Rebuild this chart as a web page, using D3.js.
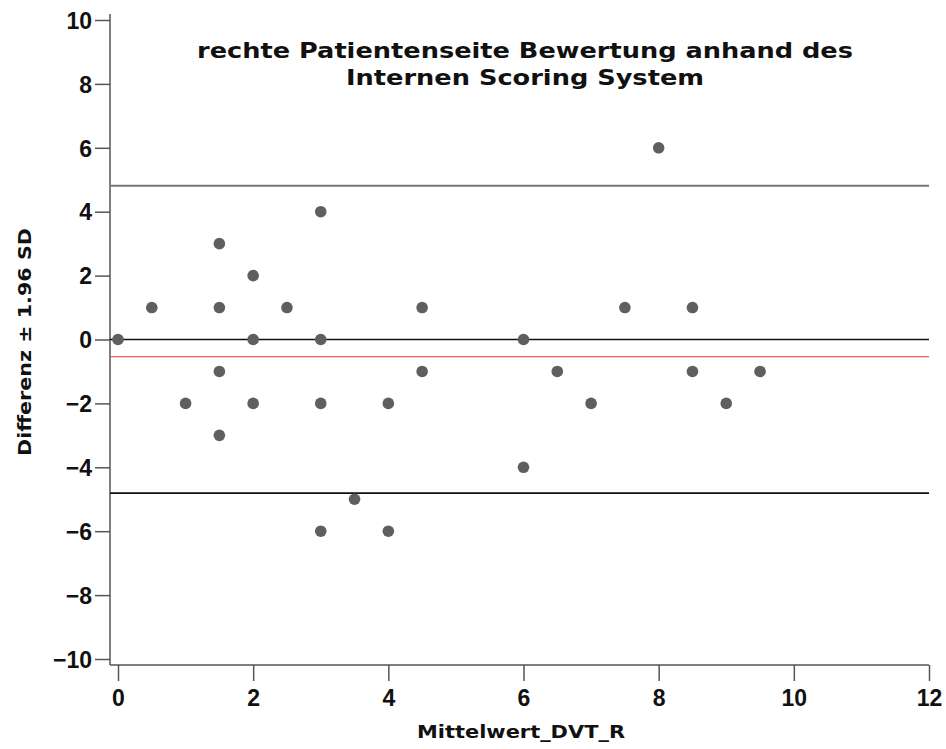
<!DOCTYPE html>
<html>
<head>
<meta charset="utf-8">
<script src="https://cdn.jsdelivr.net/npm/d3@7"></script>
<style>
  body { margin: 0; background: #fff; }
  svg { display: block; font-family: "DejaVu Sans", "Open Sans", sans-serif; }
</style>
</head>
<body>
<div id="chart"></div>
<script>
// Bland-Altman: mean of both ratings vs difference
const MEANS = [0, 0.5, 1, 1.5, 1.5, 1.5, 1.5, 2, 2, 2, 2.5, 3, 3, 3, 3, 3.5, 4, 4, 4.5, 4.5, 6, 6, 6.5, 7, 7.5, 8, 8.5, 8.5, 9, 9.5];
const DIFFS = [0, 1, -2, 3, 1, -1, -3, 2, 0, -2, 1, 4, 0, -2, -6, -5, -2, -6, 1, -1, 0, -4, -1, -2, 1, 6, 1, -1, -2, -1];
const MEAN_DIFF = -0.54;
const LIMIT_UP = 4.81;
const LIMIT_LO = -4.81;
const X_TICKS = [0, 2, 4, 6, 8, 10, 12];
const Y_TICKS = [-10, -8, -6, -4, -2, 0, 2, 4, 6, 8, 10];
const TITLE = ['rechte Patientenseite Bewertung anhand des', 'Internen Scoring System'];

const W = 946, H = 749;
const svg = d3.select('#chart').append('svg').attr('width', W).attr('height', H);

const x = d3.scaleLinear().domain([0, 12]).range([118, 929]);
const y = d3.scaleLinear().domain([-10, 10]).range([659, 20]);
const axisColor = '#555';

// plot-edge lines
svg.append('line').attr('x1', 110).attr('x2', 110).attr('y1', 14).attr('y2', 665)
  .attr('stroke', axisColor).attr('stroke-width', 1.5);
svg.append('line').attr('x1', 110).attr('x2', 929).attr('y1', 665).attr('y2', 665)
  .attr('stroke', axisColor).attr('stroke-width', 1.5);

// y axis
const yAx = svg.append('g').attr('transform', 'translate(110,0)')
  .call(d3.axisLeft(y).tickValues(Y_TICKS).tickSize(15).tickSizeOuter(0).tickFormat(d => d < 0 ? '\u2212' + Math.abs(d) : d));
yAx.select('.domain').remove();
yAx.selectAll('line').attr('stroke', axisColor).attr('stroke-width', 1.5);
yAx.selectAll('text').attr('x', -18).attr('dy', '0.36em')
  .style('font-size', '23px').style('font-weight', 'bold').attr('fill', '#111');

// x axis
const xAx = svg.append('g').attr('transform', 'translate(0,665)')
  .call(d3.axisBottom(x).tickValues(X_TICKS).tickSize(16).tickSizeOuter(0));
xAx.select('.domain').remove();
xAx.selectAll('line').attr('stroke', axisColor).attr('stroke-width', 1.5);
xAx.selectAll('text').attr('y', 41).attr('dy', 0)
  .style('font-size', '23px').style('font-weight', 'bold').attr('fill', '#111');

// reference lines
const refs = [
  { v: LIMIT_UP, c: '#777', w: 2 },
  { v: 0, c: '#111', w: 1.5 },
  { v: MEAN_DIFF, c: '#f03030', w: 1.2 },
  { v: LIMIT_LO, c: '#111', w: 1.8 },
];
svg.append('g').selectAll('line').data(refs).join('line')
  .attr('x1', 110).attr('x2', 929)
  .attr('y1', d => y(d.v)).attr('y2', d => y(d.v))
  .attr('stroke', d => d.c).attr('stroke-width', d => d.w);

// points
svg.append('g').selectAll('circle').data(MEANS).join('circle')
  .attr('cx', d => x(d)).attr('cy', (d, i) => y(DIFFS[i])).attr('r', 5.8)
  .attr('fill', '#5f5f5f');

// title, two lines
const titleLen = [656, 358];
svg.append('g').selectAll('text').data(TITLE).join('text')
  .attr('x', 525).attr('y', (d, i) => 58 + i * 27).attr('text-anchor', 'middle')
  .attr('textLength', (d, i) => titleLen[i]).attr('lengthAdjust', 'spacingAndGlyphs')
  .style('font-size', '22px').style('font-weight', 'bold').attr('fill', '#111')
  .text(d => d);

// axis labels
svg.append('text').attr('x', 521).attr('y', 738).attr('text-anchor', 'middle')
  .attr('textLength', 208).attr('lengthAdjust', 'spacingAndGlyphs')
  .style('font-size', '17px').style('font-weight', 'bold').attr('fill', '#111')
  .text('Mittelwert_DVT_R');
svg.append('text').attr('transform', 'translate(31,342) rotate(-90)').attr('text-anchor', 'middle')
  .attr('textLength', 228).attr('lengthAdjust', 'spacingAndGlyphs')
  .style('font-size', '17px').style('font-weight', 'bold').attr('fill', '#111')
  .text('Differenz \u00b1 1.96 SD');
</script>
</body>
</html>
